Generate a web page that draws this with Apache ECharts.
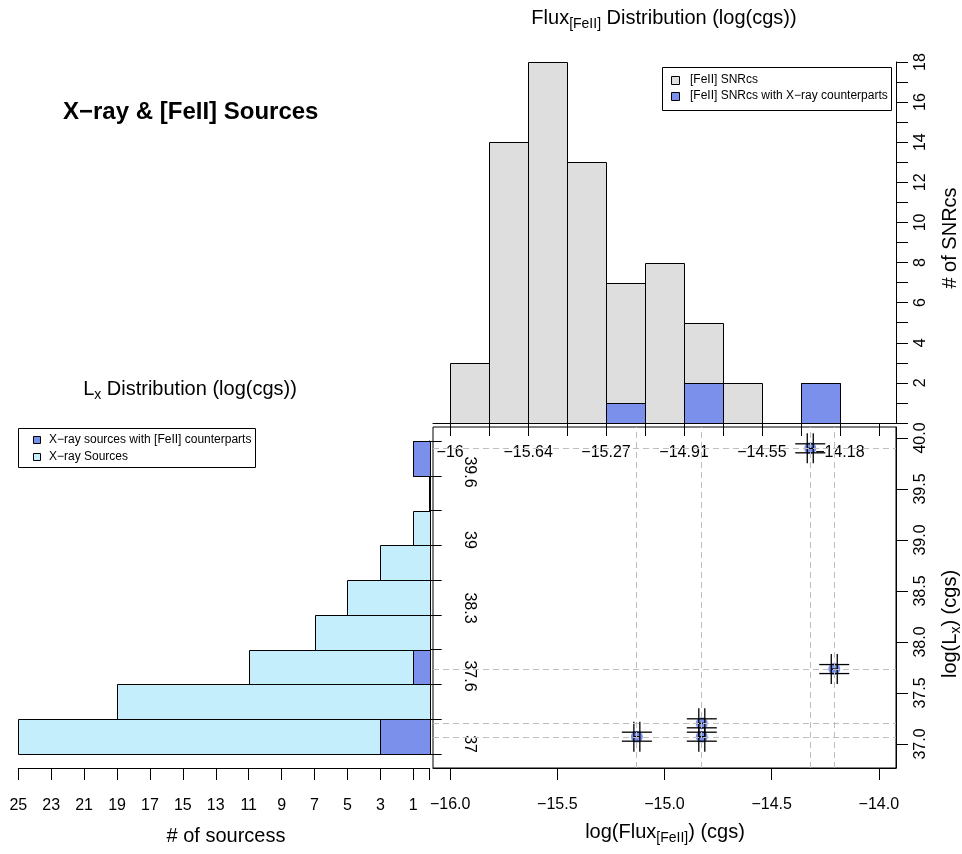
<!DOCTYPE html>
<html><head><meta charset="utf-8">
<script src="https://cdn.jsdelivr.net/npm/echarts@6/dist/echarts.min.js"></script>
<style>html,body{margin:0;padding:0;background:#fff}#c{width:962px;height:854px}</style>
</head><body><div id="c"></div>
<script>
// ---------------- data ----------------
// Flux[FeII] histogram (top): bin edges, counts
const fluxBinEdges = [-16, -15.8182, -15.6364, -15.4545, -15.2727, -15.0909, -14.9091, -14.7273, -14.5455, -14.3636, -14.1818, -14];
const fluxTickLabels = ['\u221216', '\u221215.64', '\u221215.27', '\u221214.91', '\u221214.55', '\u221214.18'];
const snrCounts = [3, 14, 18, 13, 7, 8, 5, 2, 0, 2, 0];
const snrXrayCounts = [0, 0, 0, 0, 1, 0, 2, 0, 0, 2, 0];
const snrTicks = [0, 1, 2, 3, 4, 5, 6, 7, 8, 9, 10, 11, 12, 13, 14, 15, 16, 17, 18];
const snrLabels = [2, 4, 6, 8, 10, 12, 14, 16, 18];

// Lx histogram (left): breaks, counts (bottom to top)
const lxBreaks = [37, 37.3333, 37.6667, 38, 38.3333, 38.6667, 39, 39.3333, 39.6667, 40];
const lxTickLabels = ['37', '37.6', '38.3', '39', '39.6'];
const xraySourceCounts = [25, 19, 11, 7, 5, 3, 1, 0, 1];
const xrayFeCounts = [3, 0, 1, 0, 0, 0, 0, 0, 1];
const sourceTicks = [25, 23, 21, 19, 17, 15, 13, 11, 9, 7, 5, 3, 1, 0];
const sourceLabels = [25, 23, 21, 19, 17, 15, 13, 11, 9, 7, 5, 3, 1];

// matched sources (scatter)
const pointFlux = [-15.129, -14.826, -14.826, -14.208, -14.320];
const pointLx = [37.072, 37.072, 37.203, 37.735, 39.899];
const scatterXTicks = [-16, -15.5, -15, -14.5, -14];
const scatterYTicks = [37, 37.5, 38, 38.5, 39, 39.5, 40];

// ---------------- style ----------------
const FONT = '"Liberation Sans", Arial, Helvetica, sans-serif';
const GRAY = '#DEDEDE', BLUE = '#7A90EA', LIGHT = '#C4EEFC', DASH = '#BEBEBE';
const minus = s => String(s).replace('-', '\u2212');
function nearestIdx(arr, v) { let b = 0; for (let i = 1; i < arr.length; i++) if (Math.abs(arr[i] - v) < Math.abs(arr[b] - v)) b = i; return b; }
const px = v => Math.round(v) + 0.5;

function vHist(color) {
  return function (params, api) {
    const a = api.coord([api.value(0), api.value(2)]);
    const b = api.coord([api.value(1), 0]);
    const x0 = px(a[0]), x1 = px(b[0]), y0 = px(a[1]), y1 = px(b[1]);
    return { type: 'rect', shape: { x: x0, y: y0, width: x1 - x0, height: y1 - y0 },
      style: { fill: color, stroke: '#000', lineWidth: 1 } };
  };
}
function hHist(color) {
  return function (params, api) {
    const a = api.coord([api.value(2), api.value(1)]);
    const b = api.coord([0, api.value(0)]);
    const x0 = px(a[0]), x1 = px(b[0]), y0 = px(a[1]), y1 = px(b[1]);
    return { type: 'rect', shape: { x: x0, y: y0, width: x1 - x0, height: y1 - y0 },
      style: { fill: color, stroke: '#000', lineWidth: 1 } };
  };
}

const topGray = snrCounts.map((c, i) => [fluxBinEdges[i], fluxBinEdges[i + 1], c]);
const topBlue = snrXrayCounts.map((c, i) => [fluxBinEdges[i], fluxBinEdges[i + 1], c]);
const leftLight = xraySourceCounts.map((c, i) => [lxBreaks[i], lxBreaks[i + 1], c]);
const leftBlue = xrayFeCounts.map((c, i) => [lxBreaks[i], lxBreaks[i + 1], c]);
const points = pointFlux.map((x, i) => [x, pointLx[i]]);
const uniqX = [...new Set(pointFlux)], uniqY = [...new Set(pointLx)];

const fluxLabelVals = fluxBinEdges.filter((_, i) => i % 2 === 0);
const lxLabelVals = lxBreaks.filter((_, i) => i % 2 === 0);

const tickStyle = { lineStyle: { color: '#000', width: 1 } };
const lblBase = { color: '#000', fontSize: 16, fontFamily: FONT };

function txt(x, y, text, size, opts) {
  return Object.assign({ type: 'text', x: x, y: y, silent: true,
    style: Object.assign({ text: text, fontSize: size, fontFamily: FONT, fill: '#000',
      textAlign: 'center', textVerticalAlign: 'middle' }, (opts && opts.style) || {}) }, (opts && opts.el) || {});
}
const richN = { fontSize: 20, fontFamily: FONT, fill: '#000' };
const richS = { fontSize: 14, fontFamily: FONT, fill: '#000', padding: [12, 0, 0, 0] };

const option = {
  animation: false,
  backgroundColor: '#fff',
  textStyle: { fontFamily: FONT },
  grid: [
    { left: 433, right: 66, top: 62, bottom: 431 },
    { left: 18.3, right: 532.3, top: 441, bottom: 100 },
    { left: 433, right: 66, top: 427, bottom: 86, show: true, borderColor: '#000', borderWidth: 1, backgroundColor: 'transparent' }
  ],
  xAxis: [
    { gridIndex: 0, type: 'value', min: -16.08, max: -13.92, position: 'bottom', offset: 4,
      axisLine: { show: true, lineStyle: { color: '#000' } },
      axisTick: Object.assign({ customValues: fluxBinEdges, length: 13 }, tickStyle),
      axisLabel: Object.assign({ customValues: fluxLabelVals, margin: 18,
        formatter: v => fluxTickLabels[nearestIdx(fluxLabelVals, v)] }, lblBase),
      splitLine: { show: false } },
    { gridIndex: 1, type: 'value', min: 0, max: 25, inverse: true, position: 'bottom', offset: 14,
      axisLine: { show: true, lineStyle: { color: '#000' } },
      axisTick: Object.assign({ customValues: sourceTicks, length: 12 }, tickStyle),
      axisLabel: Object.assign({ customValues: sourceLabels, margin: 30 }, lblBase),
      splitLine: { show: false } },
    { gridIndex: 2, type: 'value', min: -16.08, max: -13.92, position: 'bottom',
      axisLine: { show: true, lineStyle: { color: '#000' } },
      axisTick: Object.assign({ customValues: scatterXTicks, length: 12 }, tickStyle),
      axisLabel: Object.assign({ customValues: scatterXTicks, margin: 29,
        formatter: v => minus(v.toFixed(1)) }, lblBase),
      splitLine: { show: false } }
  ],
  yAxis: [
    { gridIndex: 0, type: 'value', min: 0, max: 18, position: 'right',
      axisLine: { show: true, lineStyle: { color: '#000' } },
      axisTick: Object.assign({ customValues: snrTicks, length: 12 }, tickStyle),
      axisLabel: Object.assign({ customValues: snrLabels, rotate: 90, margin: 17 }, lblBase),
      splitLine: { show: false } },
    { gridIndex: 1, type: 'value', min: 37, max: 40, position: 'right', offset: 4,
      axisLine: { show: true, lineStyle: { color: '#000' } },
      axisTick: Object.assign({ customValues: lxBreaks, length: 12 }, tickStyle),
      axisLabel: { show: false },
      splitLine: { show: false } },
    { gridIndex: 2, type: 'value', min: 36.765, max: 40.108, position: 'right',
      axisLine: { show: true, lineStyle: { color: '#000' } },
      axisTick: Object.assign({ customValues: scatterYTicks, length: 12 }, tickStyle),
      axisLabel: Object.assign({ customValues: scatterYTicks, rotate: 90, margin: 17,
        formatter: v => v.toFixed(1) }, lblBase),
      splitLine: { show: false } },
    // Lx break labels, drawn on the scatter's own Lx scale (as in the reference)
    { gridIndex: 2, type: 'value', min: 36.765, max: 40.108, position: 'left',
      axisLine: { show: false }, axisTick: { show: false },
      axisLabel: Object.assign({ customValues: lxLabelVals, rotate: -90, inside: true, margin: 28,
        formatter: v => lxTickLabels[nearestIdx(lxLabelVals, v)] }, lblBase),
      splitLine: { show: false } }
  ],
  series: [
    { type: 'custom', name: '[FeII] SNRcs', xAxisIndex: 0, yAxisIndex: 0, encode: { x: [0, 1], y: 2 },
      data: topGray, renderItem: vHist(GRAY), z: 2 },
    { type: 'custom', name: '[FeII] SNRcs with X-ray counterparts', xAxisIndex: 0, yAxisIndex: 0, encode: { x: [0, 1], y: 2 },
      data: topBlue, renderItem: vHist(BLUE), z: 3 },
    { type: 'custom', name: 'X-ray Sources', xAxisIndex: 1, yAxisIndex: 1, encode: { x: 2, y: [0, 1] },
      data: leftLight, renderItem: hHist(LIGHT), z: 2 },
    { type: 'custom', name: 'X-ray sources with [FeII] counterparts', xAxisIndex: 1, yAxisIndex: 1, encode: { x: 2, y: [0, 1] },
      data: leftBlue, renderItem: hHist(BLUE), z: 3 },
    { type: 'scatter', xAxisIndex: 2, yAxisIndex: 2, data: points, symbol: 'none', symbolSize: 0, z: 1,
      markLine: { silent: true, symbol: ['none', 'none'], label: { show: false }, animation: false,
        lineStyle: { color: DASH, type: [6, 4], width: 1 },
        emphasis: { disabled: true },
        data: uniqX.map(v => ({ xAxis: v })).concat(uniqY.map(v => ({ yAxis: v }))) } },
    { type: 'custom', xAxisIndex: 2, yAxisIndex: 2, data: points, z: 4,
      renderItem: function (params, api) {
        const p = api.coord([api.value(0), api.value(1)]);
        const x = p[0], y = p[1];
        const st = { stroke: '#000', lineWidth: 1.3 };
        const L = (x1, y1, x2, y2) => ({ type: 'line', shape: { x1, y1, x2, y2 }, style: st });
        return { type: 'group', children: [
          { type: 'circle', shape: { cx: x, cy: y, r: 6 }, style: { fill: BLUE } },
          L(x - 3, y - 15, x - 3, y + 15), L(x + 3, y - 15, x + 3, y + 15),
          L(x - 15, y - 4.5, x + 15, y - 4.5), L(x - 15, y + 4.5, x + 15, y + 4.5),
          L(x - 3, y, x + 3, y)
        ] };
      } }
  ],
  graphic: [
    txt(63, 112, 'X\u2212ray & [FeII] Sources', 24, { style: { fontWeight: 'bold', textAlign: 'left' } }),
    { type: 'text', x: 664, y: 18, silent: true, style: { text: '{n|Flux}{s|[FeII]}{n| Distribution (log(cgs))}',
      rich: { n: richN, s: richS }, textAlign: 'center', textVerticalAlign: 'middle' } },
    { type: 'text', x: 190, y: 389, silent: true, style: { text: '{n|L}{s|x}{n| Distribution (log(cgs))}',
      rich: { n: richN, s: richS }, textAlign: 'center', textVerticalAlign: 'middle' } },
    txt(226, 836, '# of sourcess', 20),
    { type: 'text', x: 665, y: 832, silent: true, style: { text: '{n|log(Flux}{s|[FeII]}{n|) (cgs)}',
      rich: { n: richN, s: richS }, textAlign: 'center', textVerticalAlign: 'middle' } },
    { type: 'text', x: 950, y: 624, rotation: Math.PI / 2, silent: true, style: { text: '{n|log(L}{s|x}{n|) (cgs)}',
      rich: { n: richN, s: richS }, textAlign: 'center', textVerticalAlign: 'middle' } },
    txt(950, 238, '# of SNRcs', 20, { el: { rotation: Math.PI / 2 } }),
    // top legend
    { type: 'rect', shape: { x: 662.5, y: 67.5, width: 229, height: 43 }, style: { fill: '#fff', stroke: '#000', lineWidth: 1 }, silent: true },
    { type: 'rect', shape: { x: 671.5, y: 76.5, width: 8, height: 8 }, style: { fill: GRAY, stroke: '#000', lineWidth: 1 }, silent: true },
    { type: 'rect', shape: { x: 671.5, y: 92.5, width: 8, height: 8 }, style: { fill: BLUE, stroke: '#000', lineWidth: 1 }, silent: true },
    txt(690, 80, '[FeII] SNRcs', 12, { style: { textAlign: 'left' } }),
    txt(690, 96, '[FeII] SNRcs with X\u2212ray counterparts', 12, { style: { textAlign: 'left' } }),
    // left legend
    { type: 'rect', shape: { x: 18.5, y: 428.5, width: 237, height: 39 }, style: { fill: '#fff', stroke: '#000', lineWidth: 1 }, silent: true },
    { type: 'rect', shape: { x: 33.5, y: 436.5, width: 7, height: 7 }, style: { fill: BLUE, stroke: '#000', lineWidth: 1 }, silent: true },
    { type: 'rect', shape: { x: 33.5, y: 453.5, width: 7, height: 7 }, style: { fill: LIGHT, stroke: '#000', lineWidth: 1 }, silent: true },
    txt(49, 440, 'X\u2212ray sources with [FeII] counterparts', 12, { style: { textAlign: 'left' } }),
    txt(49, 457, 'X\u2212ray Sources', 12, { style: { textAlign: 'left' } })
  ]
};

const chart = echarts.init(document.getElementById('c'), null, { renderer: 'canvas' });
chart.setOption(option);
</script>
</body></html>
